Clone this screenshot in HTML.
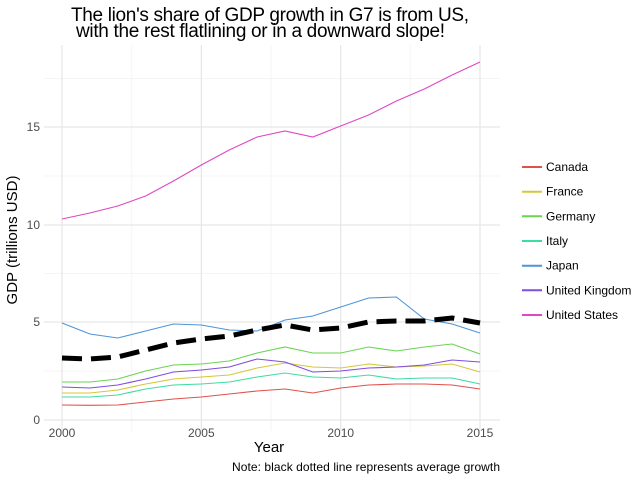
<!DOCTYPE html>
<html><head><style>body{margin:0;background:#fff}svg{display:block}</style></head>
<body>
<svg width="640" height="480" xmlns="http://www.w3.org/2000/svg" font-family="Liberation Sans, sans-serif">
<rect width="640" height="480" fill="#fff"/>
<g stroke="#f5f5f5" stroke-width="1">
<line x1="131.7" y1="45" x2="131.7" y2="431"/><line x1="271" y1="45" x2="271" y2="431"/><line x1="410.3" y1="45" x2="410.3" y2="431"/>
<line x1="44" y1="371" x2="500" y2="371"/><line x1="44" y1="273.5" x2="500" y2="273.5"/><line x1="44" y1="176" x2="500" y2="176"/><line x1="44" y1="78.5" x2="500" y2="78.5"/>
</g>
<g stroke="#e6e6e6" stroke-width="1.2">
<line x1="62" y1="45" x2="62" y2="431"/><line x1="201.3" y1="45" x2="201.3" y2="431"/><line x1="340.7" y1="45" x2="340.7" y2="431"/><line x1="480" y1="45" x2="480" y2="431"/>
<line x1="44" y1="420" x2="500" y2="420"/><line x1="44" y1="322" x2="500" y2="322"/><line x1="44" y1="225" x2="500" y2="225"/><line x1="44" y1="127" x2="500" y2="127"/>
</g>
<g fill="none" stroke-width="1.1">
<polyline stroke="#e0514b" points="62,405 89.9,405.3 117.7,405 145.6,402 173.5,399 201.3,397 229.2,394 257.1,391 285,389 312.8,393 340.7,388 368.6,385 396.4,384 424.3,384 452.1,385 480,389"/>
<polyline stroke="#3ddca0" points="62,397 89.9,397 117.7,395 145.6,389 173.5,385 201.3,384 229.2,382 257.1,377 285,373 312.8,377 340.7,378 368.6,375 396.4,379 424.3,378 452.1,378 480,384"/>
<polyline stroke="#d8c53a" points="62,393 89.9,393 117.7,390 145.6,384 173.5,379 201.3,377 229.2,375 257.1,368 285,363 312.8,367 340.7,368 368.6,364 396.4,367 424.3,366 452.1,364 480,372"/>
<polyline stroke="#7f4de0" points="62,387 89.9,388 117.7,385 145.6,379 173.5,372 201.3,370 229.2,367 257.1,359 285,362 312.8,372 340.7,371 368.6,368 396.4,367 424.3,365 452.1,360 480,362"/>
<polyline stroke="#6ad452" points="62,382 89.9,382 117.7,379 145.6,371 173.5,365 201.3,364 229.2,361 257.1,353 285,347 312.8,353 340.7,353 368.6,347 396.4,351 424.3,347 452.1,344 480,354"/>
<polyline stroke="#4f94d8" points="62,323 89.9,334 117.7,338 145.6,331 173.5,324 201.3,325 229.2,330 257.1,331 285,320 312.8,316 340.7,307 368.6,298 396.4,297 424.3,319 452.1,324 480,333"/>
<polyline stroke="#df48c2" points="62,219 89.9,213 117.7,206 145.6,196 173.5,181 201.3,165 229.2,150 257.1,137 285,131 312.8,137 340.7,126 368.6,115 396.4,101 424.3,89 452.1,75 480,62"/>
<polyline stroke="#000" stroke-width="5" stroke-dasharray="20,9" points="62,358 89.9,359 117.7,357 145.6,350 173.5,343 201.3,339 229.2,336 257.1,330 285,325 312.8,330 340.7,328 368.6,322 396.4,321 424.3,321 452.1,318 480,323"/>
</g>
<g font-size="12" fill="#4d4d4d">
<text x="62" y="437" text-anchor="middle">2000</text><text x="201.3" y="437" text-anchor="middle">2005</text><text x="340.7" y="437" text-anchor="middle">2010</text><text x="480" y="437" text-anchor="middle">2015</text>
<text x="40" y="424" text-anchor="end">0</text><text x="40" y="326" text-anchor="end">5</text><text x="40" y="229" text-anchor="end">10</text><text x="40" y="131" text-anchor="end">15</text>
</g>
<text x="269" y="452" font-size="15" text-anchor="middle">Year</text>
<text transform="translate(17,240) rotate(-90)" font-size="15" text-anchor="middle">GDP (trillions USD)</text>
<text x="232" y="471" font-size="12" textLength="268">Note: black dotted line represents average growth</text>
<text x="71" y="21" font-size="19" textLength="398">The lion's share of GDP growth in G7 is from US,</text>
<text x="76" y="37" font-size="19" textLength="369">with the rest flatlining or in a downward slope!</text>
<g font-size="12">
<line x1="522" y1="167" x2="542" y2="167" stroke="#e0514b" stroke-width="2"/><text x="546" y="171">Canada</text>
<line x1="522" y1="191.7" x2="542" y2="191.7" stroke="#d8c53a" stroke-width="2"/><text x="546" y="195.7">France</text>
<line x1="522" y1="216.3" x2="542" y2="216.3" stroke="#6ad452" stroke-width="2"/><text x="546" y="220.3">Germany</text>
<line x1="522" y1="241" x2="542" y2="241" stroke="#3ddca0" stroke-width="2"/><text x="546" y="245">Italy</text>
<line x1="522" y1="265.7" x2="542" y2="265.7" stroke="#4f94d8" stroke-width="2"/><text x="546" y="269.7">Japan</text>
<line x1="522" y1="290.3" x2="542" y2="290.3" stroke="#7f4de0" stroke-width="2"/><text x="546" y="294.3">United Kingdom</text>
<line x1="522" y1="315" x2="542" y2="315" stroke="#df48c2" stroke-width="2"/><text x="546" y="319">United States</text>
</g>
</svg>
</body></html>
